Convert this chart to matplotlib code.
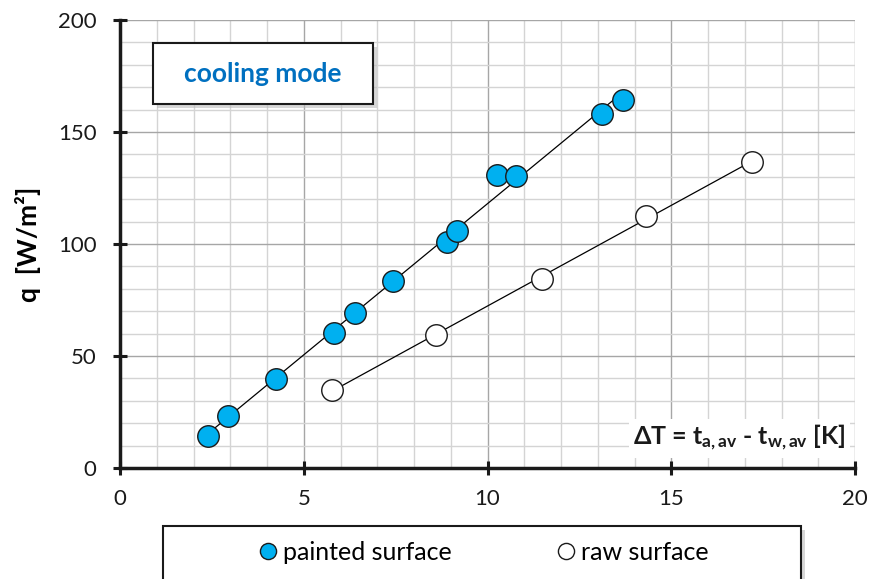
import numpy as np
import matplotlib
matplotlib.use("Agg")
import matplotlib.pyplot as plt
from matplotlib.patches import Rectangle
from matplotlib.ticker import MultipleLocator

plt.rcParams['font.family'] = ['Lato', 'DejaVu Sans']
plt.rcParams['mathtext.fontset'] = 'custom'
plt.rcParams['mathtext.rm'] = 'Lato'
plt.rcParams['mathtext.bf'] = 'Lato:bold'
plt.rcParams['mathtext.it'] = 'Lato:italic'

painted_dT = [2.39, 2.94, 4.24, 5.82, 6.39, 7.43, 8.90, 9.17, 10.26, 10.78, 13.12, 13.69]
painted_q = [14.3, 23.2, 39.7, 60.3, 69.2, 83.5, 100.9, 105.8, 130.8, 130.4, 158.0, 164.3]
raw_dT = [5.77, 8.60, 11.48, 14.31, 17.20]
raw_q = [34.8, 59.4, 84.4, 112.5, 136.6]

xticks = [0, 5, 10, 15, 20]
yticks = [0, 50, 100, 150, 200]

fig = plt.figure(figsize=(8.71, 5.79), dpi=100)
W, H = 871, 579
ax = fig.add_axes([120 / W, (H - 468) / H, (855 - 120) / W, (468 - 20) / H])
ax.set_xlim(0, 20)
ax.set_ylim(0, 200)
ax.set_xticks(xticks)
ax.set_yticks(yticks)
ax.xaxis.set_minor_locator(MultipleLocator(1))
ax.yaxis.set_minor_locator(MultipleLocator(10))
ax.grid(which='minor', color='#d4d4d4', linewidth=1.0)
ax.grid(which='major', color='#a6a6a6', linewidth=1.0)
ax.set_axisbelow(True)
for s in ['top', 'right']:
    ax.spines[s].set_visible(False)
for s in ['left', 'bottom']:
    ax.spines[s].set_linewidth(2.5)
    ax.spines[s].set_color('#1a1a1a')
ax.tick_params(which='major', direction='inout', length=10, width=2.2, color='#1a1a1a',
               labelsize=16, labelcolor='#1a1a1a')
ax.tick_params(axis='x', which='major', pad=10)
ax.tick_params(axis='y', which='major', pad=12)
ax.tick_params(which='minor', length=0)

# trend lines
for xs, ys in [(painted_dT, painted_q), (raw_dT, raw_q)]:
    xs = np.array(xs); ys = np.array(ys)
    k, b = np.polyfit(xs, ys, 1)
    xx = np.array([xs.min(), xs.max()])
    ax.plot(xx, k * xx + b, color='black', linewidth=0.9, zorder=3)

ax.plot(painted_dT, painted_q, 'o', ms=15.5, mfc='#00b0f0', mec='#1a1a1a', mew=1.0, zorder=4,
        label='painted surface')
ax.plot(raw_dT, raw_q, 'o', ms=15.5, mfc='white', mec='#1a1a1a', mew=1.0, zorder=4,
        label='raw surface')

ax.set_ylabel('q  [W/m²]', fontsize=19, fontweight='bold', labelpad=12)

ax.text(0.988, 0.066, r'ΔT = t$_\mathbf{a,av}$ - t$_\mathbf{w,av}$ [K]', transform=ax.transAxes,
        ha='right', va='center', fontsize=18, fontweight='bold', color='#1a1a1a',
        bbox=dict(facecolor='white', edgecolor='none', pad=3), zorder=5)

# boxes with shadow
def shadow_box(x0, y0, x1, y1, z=5):
    sh = Rectangle(((x0 + 4) / W, (H - y1 - 4) / H), (x1 - x0) / W, (y1 - y0) / H,
                   transform=fig.transFigure, facecolor='#bdbdbd', edgecolor='none',
                   alpha=0.6, zorder=z)
    bx = Rectangle((x0 / W, (H - y1) / H), (x1 - x0) / W, (y1 - y0) / H,
                   transform=fig.transFigure, facecolor='white', edgecolor='#1a1a1a',
                   linewidth=1.5, zorder=z + 1)
    fig.patches.extend([sh, bx])

shadow_box(153, 43, 373, 104)
fig.text((153 + 373) / 2 / W, 1 - 74 / H, 'cooling mode', ha='center', va='center',
         fontsize=19, fontweight='bold', color='#0070c0', zorder=10)

shadow_box(163, 526, 801, 590)
handles, labels = ax.get_legend_handles_labels()
leg = fig.legend(handles, labels, loc='center', bbox_to_anchor=(484 / W, 1 - 552 / H),
                 ncol=2, frameon=False, fontsize=18, markerscale=0.75,
                 handlelength=0.7, handletextpad=0.25, columnspacing=4.2)
leg.set_zorder(10)

fig.savefig('out.png', dpi=100)
